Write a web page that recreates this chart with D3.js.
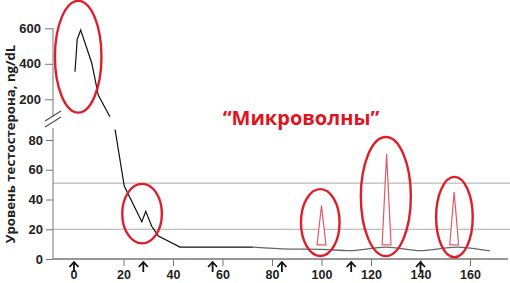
<!DOCTYPE html>
<html>
<head>
<meta charset="utf-8">
<script src="https://cdn.jsdelivr.net/npm/d3@7"></script>
<style>
  body { margin: 0; background: #fff; }
  svg { display: block; font-family: 'Open Sans', sans-serif; }
  .tick text { font-weight: bold; fill: #222; }
  .tick line, .domain { stroke: #777; }
</style>
</head>
<body>
<div id="chart"></div>
<script>
// days and testosterone values
const topDays = [0.4, 1.3, 2.7, 7.2, 9.8, 14.5];
const topValues = [355, 538, 590, 403, 224, 102];
const bottomDays = [16.6, 20.3, 27.4, 29, 31.4, 34.1, 42.8, 72.3];
const bottomValues = [87, 49, 25, 32, 22, 15.5, 8, 8];
const lateDays = [72.3, 87, 100, 111.5, 126, 140, 154.6, 168];
const lateValues = [8, 6.7, 6.5, 5.6, 8, 5.6, 8, 5.4];

const peakDays = [100, 126.3, 153.6];
const peakValues = [36, 70.5, 45];
const peakBase = 9.5;
const peakHalfWidth = 1.8;

const arrowDays = [0, 28, 56, 84, 112, 140];
const xTicks = [0, 20, 40, 60, 80, 100, 120, 140, 160];
const topTicks = [200, 400, 600];
const bottomTicks = [0, 20, 40, 60, 80];
const gridValues = [20, 51];

// circled regions: centre day, centre value, radius in days, radius in values, which scale
const ringDays = [1.7, 27.5, 99.5, 126, 153.7];
const ringValues = [440, 30.5, 24.5, 42, 28.2];
const ringDayRadius = [9.4, 8, 7.8, 10.1, 7.4];
const ringValueRadius = [315, 20, 22.5, 40, 27];
const ringScale = ['top', 'bottom', 'bottom', 'bottom', 'bottom'];

const width = 510, height = 283;
const svg = d3.select('#chart').append('svg').attr('width', width).attr('height', height);

const x = d3.scaleLinear().domain([0, 160]).range([74, 470]);
const yTop = d3.scaleLinear().domain([0, 600]).range([134.8, 28.3]);
const yBottom = d3.scaleLinear().domain([0, 80]).range([259, 140]);
const axisX = 53;

// grid lines
svg.selectAll('line.grid')
  .data(gridValues)
  .join('line')
  .attr('class', 'grid')
  .attr('x1', axisX).attr('x2', width)
  .attr('y1', d => yBottom(d)).attr('y2', d => yBottom(d))
  .attr('stroke', '#aaa').attr('stroke-width', 1);

// y axes (broken)
const gTop = svg.append('g').attr('transform', `translate(${axisX},0)`)
  .call(d3.axisLeft(yTop).tickValues(topTicks).tickSize(8).tickSizeOuter(0));
gTop.select('.domain').attr('d', `M0,${yTop(600)}V${yTop(100)}`);

const gBottom = svg.append('g').attr('transform', `translate(${axisX},0)`)
  .call(d3.axisLeft(yBottom).tickValues(bottomTicks).tickSize(7).tickSizeOuter(0));
gBottom.select('.domain').attr('d', `M0,${yBottom(0)}V${yBottom(88)}`);

svg.selectAll('.tick text').attr('font-size', 13);
gTop.selectAll('.tick text').attr('x', -12);

// break marks
svg.selectAll('line.break')
  .data([0, 6])
  .join('line')
  .attr('x1', axisX - 8).attr('x2', axisX + 8)
  .attr('y1', d => 121 + d).attr('y2', d => 111 + d)
  .attr('stroke', '#555').attr('stroke-width', 1.3);

// x axis
const gX = svg.append('g').attr('transform', `translate(0,${yBottom(0)})`)
  .call(d3.axisBottom(x).tickValues(xTicks.slice(1)).tickSize(7).tickFormat(d3.format('d')).tickSizeOuter(0));
gX.select('.domain').attr('d', `M${axisX},0H${width - 2}`).attr('stroke', '#333').attr('stroke-width', 1.5);
gX.selectAll('.tick text').attr('y', 11).attr('font-size', 12.5);
gX.append('text')
  .attr('x', x(0)).attr('y', 11).attr('dy', '0.71em')
  .attr('text-anchor', 'middle').attr('font-weight', 'bold')
  .attr('font-size', 12.5).attr('fill', '#222').text('0');

// arrows for injection days
const arrows = svg.append('g').attr('stroke', '#111').attr('stroke-width', 1.8).attr('fill', 'none');
arrowDays.forEach(d => {
  const ax = x(d);
  arrows.append('path').attr('d', `M${ax},272V262M${ax - 4.5},267L${ax},262L${ax + 4.5},267`);
});

// series
const line = (ys) => d3.line().x(d => x(d[0])).y(d => ys(d[1]));
svg.append('path')
  .datum(d3.zip(topDays, topValues))
  .attr('d', line(yTop))
  .attr('fill', 'none').attr('stroke', '#111').attr('stroke-width', 1.2);
svg.append('path')
  .datum(d3.zip(bottomDays, bottomValues))
  .attr('d', line(yBottom))
  .attr('fill', 'none').attr('stroke', '#111').attr('stroke-width', 1.2);
svg.append('path')
  .datum(d3.zip(lateDays, lateValues))
  .attr('d', line(yBottom).curve(d3.curveMonotoneX))
  .attr('fill', 'none').attr('stroke', '#666').attr('stroke-width', 1.3);

// microwave peaks
svg.selectAll('path.peak')
  .data(d3.zip(peakDays, peakValues))
  .join('path')
  .attr('class', 'peak')
  .attr('d', ([d, v]) => `M${x(d - peakHalfWidth)},${yBottom(peakBase)}L${x(d)},${yBottom(v)}L${x(d + peakHalfWidth)},${yBottom(peakBase)}Z`)
  .attr('fill', '#fff').attr('stroke', '#e05a6a').attr('stroke-width', 1.2);

// red rings
const scales = { top: yTop, bottom: yBottom };
svg.selectAll('ellipse.ring')
  .data(d3.range(ringDays.length))
  .join('ellipse')
  .attr('cx', i => x(ringDays[i]))
  .attr('cy', i => scales[ringScale[i]](ringValues[i]))
  .attr('rx', i => x(ringDayRadius[i]) - x(0))
  .attr('ry', i => scales[ringScale[i]](0) - scales[ringScale[i]](ringValueRadius[i]))
  .attr('fill', 'none').attr('stroke', '#dd1f2b').attr('stroke-width', 2.4);

// label
svg.append('text')
  .attr('x', 301).attr('y', 125)
  .attr('text-anchor', 'middle')
  .attr('font-size', 20).attr('font-weight', 'bold')
  .attr('fill', '#e0141e')
  .text('“Микроволны”');

svg.append('text')
  .attr('transform', 'translate(15,144) rotate(-90)')
  .attr('text-anchor', 'middle')
  .attr('font-size', 13.2).attr('font-weight', 'bold')
  .attr('fill', '#222')
  .text('Уровень тестостерона, ng/dL');
</script>
</body>
</html>
